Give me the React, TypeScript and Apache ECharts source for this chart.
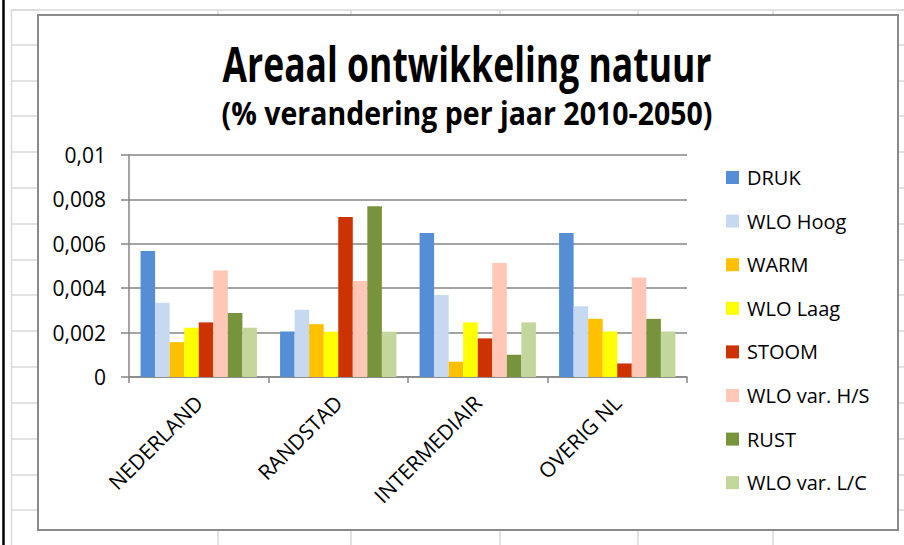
import React, { useEffect, useRef } from 'react';
import * as echarts from 'echarts';

const categories = ['NEDERLAND', 'RANDSTAD', 'INTERMEDIAIR', 'OVERIG NL'];
const seriesNames = ['DRUK', 'WLO Hoog', 'WARM', 'WLO Laag', 'STOOM', 'WLO var. H/S', 'RUST', 'WLO var. L/C'];
const druk = [0.00568, 0.00205, 0.00649, 0.00649];
const wloHoog = [0.00334, 0.00303, 0.00369, 0.00319];
const warm = [0.00157, 0.00238, 0.00069, 0.00262];
const wloLaag = [0.00222, 0.00204, 0.00246, 0.00205];
const stoom = [0.00246, 0.00721, 0.00174, 0.00061];
const wloHS = [0.0048, 0.00432, 0.00513, 0.00448];
const rust = [0.00288, 0.00769, 0.001, 0.00262];
const wloLC = [0.00222, 0.00204, 0.00246, 0.00205];
const seriesValues = [druk, wloHoog, warm, wloLaag, stoom, wloHS, rust, wloLC];
const seriesColors = ['#558ED5', '#C6D9F1', '#FFC000', '#FFFF00', '#CC3300', '#FFC7B5', '#77933C', '#C3D69B'];

const yMin = 0;
const yMax = 0.01;
const yInterval = 0.002;

const titleText = 'Areaal ontwikkeling natuur';
const subtitleText = '(% verandering per jaar 2010-2050)';

const FONT = "'Open Sans', 'Noto Sans', sans-serif";

export default function App() {
  const ref = useRef<HTMLDivElement>(null);

  useEffect(() => {
    const el = ref.current;
    if (!el) return;
    const chart = echarts.init(el, null, { renderer: 'svg' });

    const gridColor = '#d9d9d9';
    const rowYs = [10, 45, 81, 116, 152, 188, 224, 260, 295, 331, 367, 403, 439, 475, 510];
    const colXs = [218, 351, 500, 638, 773];
    const bg: any[] = [];
    // spreadsheet background
    bg.push({ type: 'line', z: -10, shape: { x1: 3.5, y1: 0, x2: 3.5, y2: 545 }, style: { stroke: '#000', lineWidth: 2.5 } });
    bg.push({ type: 'line', z: -10, shape: { x1: 11.5, y1: 10, x2: 11.5, y2: 545 }, style: { stroke: gridColor, lineWidth: 1.5 } });
    bg.push({ type: 'line', z: -10, shape: { x1: 11, y1: 10, x2: 904, y2: 10 }, style: { stroke: gridColor, lineWidth: 1.5 } });
    rowYs.forEach((y) => {
      bg.push({ type: 'line', z: -10, shape: { x1: 11, y1: y, x2: 38, y2: y }, style: { stroke: gridColor, lineWidth: 1.5 } });
      bg.push({ type: 'line', z: -10, shape: { x1: 898, y1: y, x2: 904, y2: y }, style: { stroke: gridColor, lineWidth: 1.5 } });
    });
    colXs.forEach((x) => {
      bg.push({ type: 'line', z: -10, shape: { x1: x, y1: 10, x2: x, y2: 16 }, style: { stroke: gridColor, lineWidth: 1.5 } });
      bg.push({ type: 'line', z: -10, shape: { x1: x, y1: 530, x2: x, y2: 545 }, style: { stroke: gridColor, lineWidth: 1.5 } });
    });
    // chart frame
    bg.push({ type: 'rect', z: -9, shape: { x: 38, y: 15, width: 860, height: 515 }, style: { fill: '#fff', stroke: '#8a8a8a', lineWidth: 2 } });
    // titles
    bg.push({
      type: 'text', z: 10, x: 467, y: 63, scaleX: 0.74, scaleY: 1,
      style: { text: titleText, fontFamily: FONT, fontWeight: 'bold', fontSize: 48, fill: '#000', align: 'center', verticalAlign: 'middle' },
    });
    bg.push({
      type: 'text', z: 10, x: 467, y: 113, scaleX: 0.89, scaleY: 1,
      style: { text: subtitleText, fontFamily: FONT, fontWeight: 'bold', fontSize: 32, fill: '#000', align: 'center', verticalAlign: 'middle' },
    });

    const axisGray = '#868686';

    chart.setOption({
      animation: false,
      backgroundColor: '#fff',
      textStyle: { fontFamily: FONT },
      graphic: bg,
      grid: { left: 129, right: 217, top: 155, bottom: 168, containLabel: false },
      legend: {
        orient: 'vertical',
        left: 721,
        top: 162.5,
        itemWidth: 13,
        itemHeight: 13,
        itemGap: 23.6,
        icon: 'rect',
        data: seriesNames,
        textStyle: { fontFamily: FONT, fontSize: 20, color: '#000', lineHeight: 18, padding: [0, 0, 0, 3] },
      },
      xAxis: {
        type: 'category',
        data: categories,
        axisLine: { show: true, lineStyle: { color: axisGray, width: 1.5 } },
        axisTick: { show: true, length: 6, lineStyle: { color: axisGray, width: 1.5 } },
        axisLabel: { interval: 0, rotate: 45, margin: 22, fontSize: 21, color: '#000', fontFamily: FONT },
        splitLine: { show: false },
      },
      yAxis: {
        type: 'value',
        min: yMin,
        max: yMax,
        interval: yInterval,
        axisLine: { show: true, lineStyle: { color: axisGray, width: 1.5 } },
        axisTick: { show: true, length: 8, lineStyle: { color: axisGray, width: 1.5 } },
        axisLabel: {
          margin: 23,
          fontSize: 21,
          color: '#000',
          fontFamily: FONT,
          formatter: (v: number) => String(+v.toFixed(4)).replace('.', ','),
        },
        splitLine: { show: true, lineStyle: { color: axisGray, width: 1.5 } },
      },
      series: seriesNames.map((name, i) => ({
        name,
        type: 'bar',
        data: seriesValues[i],
        barGap: '0%',
        barCategoryGap: '16.6%',
        itemStyle: { color: seriesColors[i] },
      })),
    });

    return () => chart.dispose();
  }, []);

  return (
    <div
      ref={ref}
      style={{ position: 'fixed', left: 0, top: 0, width: 904, height: 545, background: '#fff' }}
    />
  );
}
